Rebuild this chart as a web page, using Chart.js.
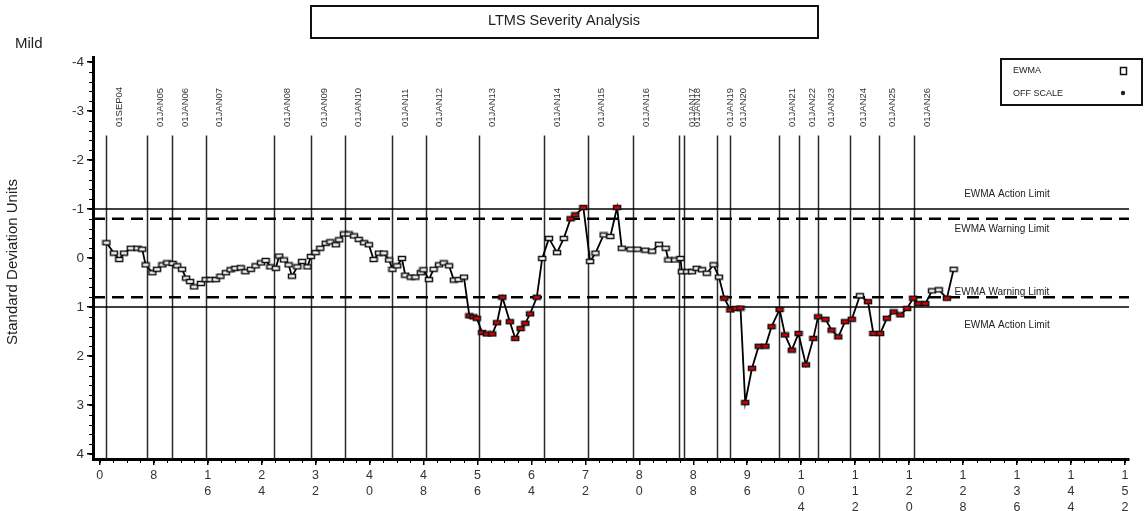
<!DOCTYPE html>
<html>
<head>
<meta charset="utf-8">
<script src="https://cdn.jsdelivr.net/npm/chart.js@4.4.1/dist/chart.umd.min.js"></script>
<style>
  body { margin: 0; background: #fff; }
  canvas { display: block; }
</style>
</head>
<body>
<canvas id="ltmsChart" width="1145" height="511"></canvas>
<script>
// EWMA severity values (test sequence position, standard deviation units)
const ewmaX = [
  1.0, 2.1, 2.9, 3.6, 4.6, 5.6, 6.3, 6.8, 7.8, 8.5, 9.3, 10.0, 10.8, 11.5, 12.2, 12.8,
  13.4, 14.0, 15.0, 15.7, 16.4, 17.2, 17.9, 18.7, 19.4, 20.1, 20.9, 21.6, 22.4, 23.1,
  23.9, 24.6, 25.3, 26.1, 26.6, 27.3, 28.0, 28.5, 29.3, 30.0, 30.8, 31.3, 32.0, 32.7,
  33.5, 34.2, 35.0, 35.5, 36.2, 36.9, 37.7, 38.4, 39.2, 39.9, 40.6, 41.4, 42.1, 42.9,
  43.4, 44.1, 44.8, 45.3, 46.1, 46.8, 47.6, 48.0, 48.8, 49.5, 50.3, 51.0, 51.8, 52.5,
  53.2, 54.0, 54.8, 55.4, 55.9, 56.7, 57.4, 58.2, 58.9, 59.7, 60.8, 61.6, 62.4, 63.1,
  63.8, 64.8, 65.6, 66.6, 67.8, 68.8, 69.8, 70.5, 71.7, 72.7, 73.5, 74.7, 75.7, 76.7,
  77.4, 78.7, 79.7, 80.9, 81.9, 82.9, 83.9, 84.3, 85.3, 86.1, 86.3, 87.1, 87.8, 88.5,
  89.3, 90.0, 91.0, 91.8, 92.6, 93.5, 94.3, 95.0, 95.7, 96.7, 97.7, 98.7, 99.6, 100.8,
  101.6, 102.6, 103.6, 104.7, 105.8, 106.5, 107.6, 108.5, 109.5, 110.5, 111.5, 112.7,
  113.9, 114.7, 115.7, 116.7, 117.7, 118.7, 119.7, 120.6, 121.4, 122.4, 123.4, 124.4,
  125.6, 126.6
];
const ewmaY = [
  -0.31, -0.10, 0.03, -0.10, -0.20, -0.20, -0.18, 0.14, 0.30, 0.23, 0.14, 0.10, 0.11, 0.16, 0.23, 0.41,
  0.48, 0.59, 0.52, 0.44, 0.44, 0.44, 0.37, 0.30, 0.24, 0.21, 0.20, 0.28, 0.23, 0.16,
  0.10, 0.05, 0.18, 0.21, -0.04, 0.04, 0.14, 0.37, 0.18, 0.07, 0.18, -0.03, -0.11, -0.20,
  -0.30, -0.33, -0.27, -0.37, -0.49, -0.49, -0.45, -0.38, -0.31, -0.27, 0.03, -0.10, -0.10, 0.04,
  0.23, 0.16, 0.01, 0.35, 0.39, 0.39, 0.30, 0.24, 0.44, 0.23, 0.14, 0.10, 0.16, 0.45,
  0.44, 0.39, 1.18, 1.20, 1.23, 1.52, 1.55, 1.55, 1.32, 0.80, 1.30, 1.64, 1.44, 1.33,
  1.14, 0.80, 0.01, -0.40, -0.11, -0.40, -0.80, -0.88, -1.03, 0.07, -0.10, -0.47, -0.44, -1.03,
  -0.20, -0.18, -0.18, -0.16, -0.14, -0.28, -0.20, 0.04, 0.04, 0.01, 0.28, 0.28, 0.28, 0.21,
  0.24, 0.31, 0.14, 0.39, 0.82, 1.06, 1.03, 1.02, 2.95, 2.25, 1.80, 1.80, 1.40, 1.05,
  1.57, 1.88, 1.54, 2.18, 1.64, 1.20, 1.25, 1.47, 1.61, 1.30, 1.25, 0.77,
  0.89, 1.54, 1.54, 1.23, 1.10, 1.16, 1.03, 0.82, 0.93, 0.93, 0.67, 0.65,
  0.82, 0.23
];

// date reference lines
const dateLabels = [
  "01SEP04", "01JAN05", "01JAN06", "01JAN07", "01JAN08", "01JAN09", "01JAN10", "01JAN11",
  "01JAN12", "01JAN13", "01JAN14", "01JAN15", "01JAN16", "01JAN17", "01JAN18", "01JAN19",
  "01JAN20", "01JAN21", "01JAN22", "01JAN23", "01JAN24", "01JAN25", "01JAN26"
];
const dateX = [
  0.9, 7.0, 10.7, 15.7, 25.8, 31.3, 36.4, 43.4, 48.4, 56.3, 65.9, 72.4, 79.1, 85.9, 86.6,
  91.5, 93.5, 100.7, 103.6, 106.5, 111.3, 115.6, 120.7
];

const actionLimit = 1.0;
const warningLimit = 0.8;
const offScale = 0.78;

const xTicks = [0, 8, 16, 24, 32, 40, 48, 56, 64, 72, 80, 88, 96, 104, 112, 120, 128, 136, 144, 152];
const yTicks = [-4, -3, -2, -1, 0, 1, 2, 3, 4];
const X_MIN = -1, X_MAX = 152.6, Y_MIN = -4.1, Y_MAX = 4.1;

const FONT = "'Liberation Sans', Arial, sans-serif";

function makeMarker(fill) {
  const c = document.createElement("canvas");
  c.width = 10;
  c.height = 7;
  const g = c.getContext("2d");
  g.fillStyle = fill;
  g.fillRect(1, 1, 8, 5);
  g.strokeStyle = "#111";
  g.lineWidth = 1.5;
  g.strokeRect(1.5, 1.5, 7, 4);
  return c;
}
const openMarker = makeMarker("#ffffff");
const redMarker = makeMarker("#e60000");

function limitLine(y, dashed) {
  return {
    data: [{ x: X_MIN, y: y }, { x: X_MAX, y: y }],
    showLine: true,
    borderColor: "#000",
    borderWidth: dashed ? 2.5 : 1.5,
    borderDash: dashed ? [12, 7] : [],
    pointRadius: 0,
    order: 2
  };
}

const decorations = {
  id: "decorations",
  beforeDatasetsDraw(chart) {
    const ctx = chart.ctx;
    const xs = chart.scales.x, ys = chart.scales.y;
    const top = ys.getPixelForValue(-2.5);
    ctx.save();
    ctx.strokeStyle = "#2a2a2a";
    ctx.lineWidth = 1.5;
    ctx.fillStyle = "#333";
    ctx.font = "9.5px " + FONT;
    ctx.textBaseline = "middle";
    ctx.textAlign = "left";
    dateX.forEach((v, i) => {
      const px = Math.round(xs.getPixelForValue(v)) + 0.5;
      ctx.beginPath();
      ctx.moveTo(px, top);
      ctx.lineTo(px, chart.chartArea.bottom);
      ctx.stroke();
      ctx.save();
      ctx.translate(px + 13, 127);
      ctx.rotate(-Math.PI / 2);
      ctx.fillText(dateLabels[i], 0, 0);
      ctx.restore();
    });
    ctx.restore();
  },
  afterDraw(chart) {
    const ctx = chart.ctx;
    const xs = chart.scales.x, ys = chart.scales.y;
    const area = chart.chartArea;
    ctx.save();

    // minor ticks
    ctx.strokeStyle = "#000";
    ctx.lineWidth = 1;
    for (let v = -4; v <= 4.001; v += 0.2) {
      const py = Math.round(ys.getPixelForValue(v)) + 0.5;
      ctx.beginPath();
      ctx.moveTo(area.left - 4, py);
      ctx.lineTo(area.left, py);
      ctx.stroke();
    }
    for (let v = 0; v <= 152; v += 2) {
      const px = Math.round(xs.getPixelForValue(v)) + 0.5;
      ctx.beginPath();
      ctx.moveTo(px, area.bottom);
      ctx.lineTo(px, area.bottom + 4);
      ctx.stroke();
    }

    // title box
    ctx.lineWidth = 2;
    ctx.strokeStyle = "#111";
    ctx.strokeRect(311, 6, 507, 32);
    ctx.fillStyle = "#222";
    ctx.font = "14.5px " + FONT;
    ctx.textAlign = "center";
    ctx.textBaseline = "middle";
    ctx.fillText("LTMS Severity Analysis", 564, 21);

    // Mild
    ctx.textAlign = "left";
    ctx.font = "15px " + FONT;
    ctx.fillText("Mild", 15, 44);

    // y axis title
    ctx.save();
    ctx.translate(13, 262);
    ctx.rotate(-Math.PI / 2);
    ctx.textAlign = "center";
    ctx.font = "15px " + FONT;
    ctx.fillText("Standard Deviation Units", 0, 0);
    ctx.restore();

    // limit labels
    ctx.font = "10px " + FONT;
    ctx.textAlign = "center";
    const lx = xs.getPixelForValue(134.5);
    ctx.fillText("EWMA Action Limit", lx, ys.getPixelForValue(-actionLimit) - 15);
    ctx.fillText("EWMA Warning Limit", lx - 5, ys.getPixelForValue(-warningLimit) + 10);
    ctx.fillText("EWMA Warning Limit", lx - 5, ys.getPixelForValue(warningLimit) - 5);
    ctx.fillText("EWMA Action Limit", lx, ys.getPixelForValue(actionLimit) + 18);

    // legend box
    ctx.lineWidth = 2;
    ctx.strokeRect(1001, 59, 141, 46);
    ctx.font = "9px " + FONT;
    ctx.textAlign = "left";
    ctx.fillText("EWMA", 1013, 71);
    ctx.fillText("OFF SCALE", 1013, 94);
    ctx.lineWidth = 1.5;
    ctx.strokeStyle = "#111";
    ctx.strokeRect(1120.5, 67.5, 6, 7);
    ctx.beginPath();
    ctx.arc(1123, 93, 2.2, 0, Math.PI * 2);
    ctx.fill();

    ctx.restore();
  }
};

new Chart(document.getElementById("ltmsChart"), {
  type: "scatter",
  data: {
    datasets: [
      {
        label: "EWMA",
        data: ewmaX.map((x, i) => ({ x: x, y: ewmaY[i] })),
        showLine: true,
        borderColor: "#000",
        borderWidth: 1.8,
        pointStyle: (c) => (c.raw && Math.abs(c.raw.y) >= offScale ? redMarker : openMarker),
        order: 0
      },
      limitLine(-actionLimit, false),
      limitLine(-warningLimit, true),
      limitLine(warningLimit, true),
      limitLine(actionLimit, false)
    ]
  },
  options: {
    responsive: false,
    animation: false,
    layout: { padding: { top: 57, right: 16, left: 0, bottom: 0 } },
    plugins: { legend: { display: false }, tooltip: { enabled: false } },
    scales: {
      x: {
        type: "linear",
        min: X_MIN,
        max: X_MAX,
        afterBuildTicks: (s) => { s.ticks = xTicks.map((v) => ({ value: v })); },
        afterFit: (s) => { s.height = 52; },
        grid: { drawOnChartArea: false, tickLength: 6, color: "#000", lineWidth: 1.5 },
        border: { display: true, color: "#000", width: 3 },
        ticks: {
          autoSkip: false,
          maxRotation: 0,
          padding: 2,
          color: "#333",
          font: { family: FONT, size: 12.5, lineHeight: 1.3 },
          callback: (v) => String(v).split("")
        }
      },
      y: {
        type: "linear",
        reverse: true,
        min: Y_MIN,
        max: Y_MAX,
        afterBuildTicks: (s) => { s.ticks = yTicks.map((v) => ({ value: v })); },
        afterFit: (s) => { s.width = 93; },
        grid: { drawOnChartArea: false, tickLength: 6, color: "#000", lineWidth: 1.5 },
        border: { display: true, color: "#000", width: 3 },
        ticks: {
          padding: 3,
          color: "#333",
          font: { family: FONT, size: 13.5 },
          callback: (v) => String(v)
        }
      }
    }
  },
  plugins: [decorations]
});
</script>
</body>
</html>
